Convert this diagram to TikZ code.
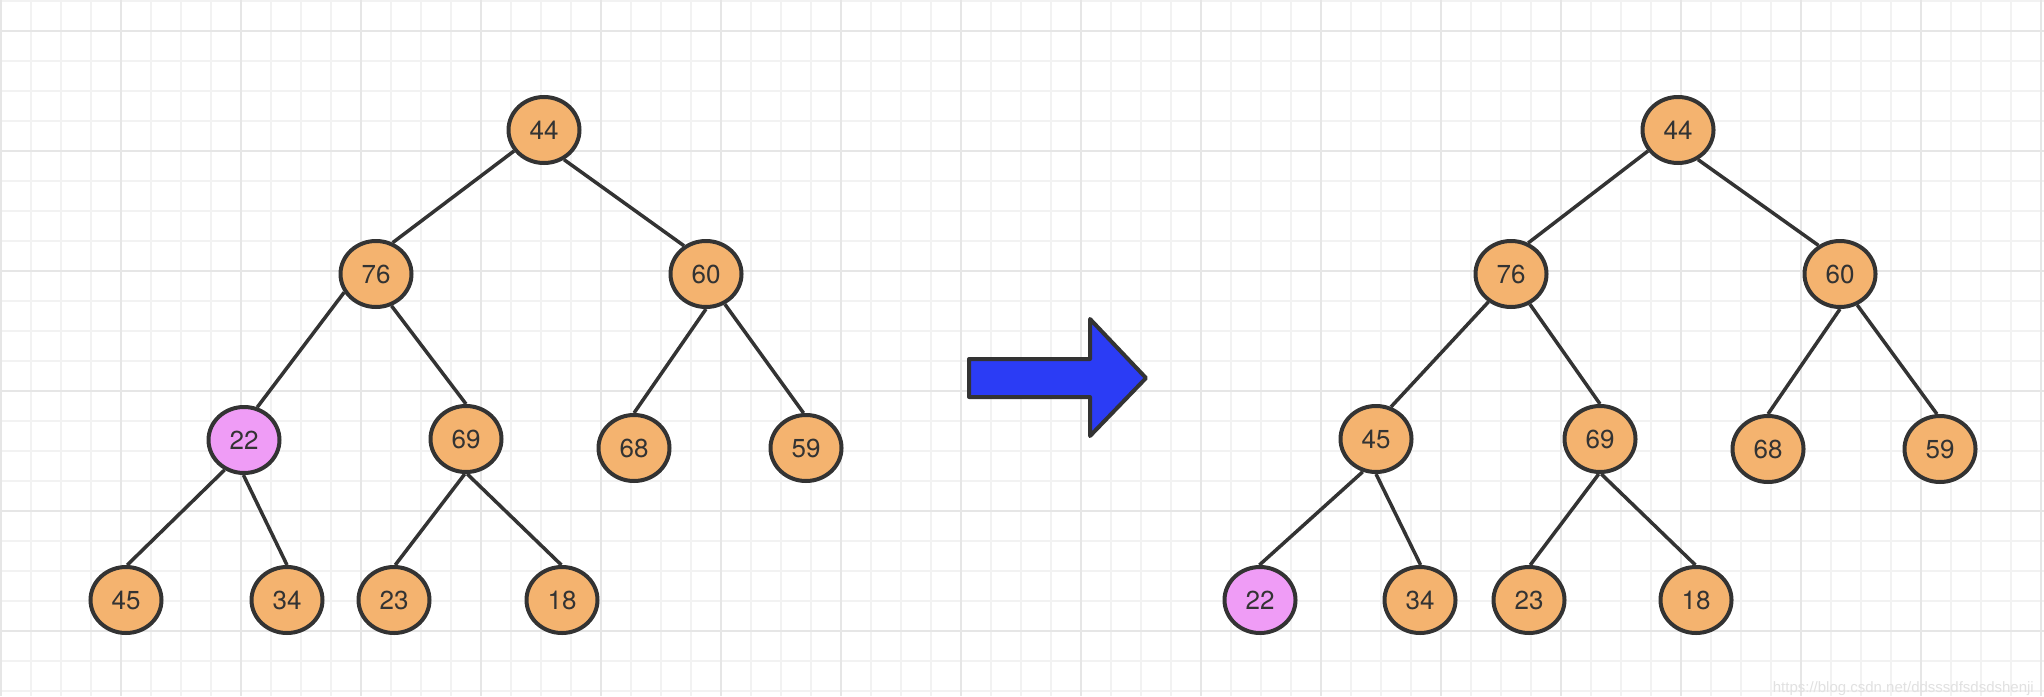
\documentclass[tikz,border=0pt]{standalone}
\usepackage{fontspec}
\setmainfont{TeX Gyre Heros}
\newfontfamily\wmfont{Liberation Sans}
\usetikzlibrary{shapes.geometric}
\definecolor{gridminor}{RGB}{242,242,242}
\definecolor{gridmajor}{RGB}{230,230,230}
\definecolor{nodeorange}{RGB}{244,179,111}
\definecolor{nodepurple}{RGB}{239,156,246}
\definecolor{inkgray}{RGB}{51,51,51}
\definecolor{arrowblue}{RGB}{43,60,245}
\definecolor{wmgray}{RGB}{225,225,225}
\pgfdeclarelayer{gridlayer}
\pgfdeclarelayer{edgelayer}
\pgfsetlayers{gridlayer,edgelayer,main}
\tikzset{
  heapnode/.style={ellipse, draw=inkgray, line width=4pt, fill=nodeorange,
    minimum width=71pt, minimum height=66pt, inner sep=0pt, text=inkgray,
    font=\fontsize{26}{31}\selectfont},
  movednode/.style={heapnode, fill=nodepurple},
  treeedge/.style={draw=inkgray, line width=3.5pt},
  minorline/.style={draw=gridminor, line width=2pt},
  majorline/.style={draw=gridmajor, line width=2.5pt},
  bigarrow/.style={draw=inkgray, fill=arrowblue, line width=4pt, line join=round}
}
\begin{document}
\begin{tikzpicture}[x=1pt,y=-1pt]
\useasboundingbox (0,0) rectangle (2044,696);
\begin{pgfonlayer}{gridlayer}
  \fill[white] (0,0) rectangle (2044,696);
  \foreach \k in {0,...,68} \draw[minorline] ({1+30*\k},0) -- ({1+30*\k},696);
  \foreach \k in {0,...,23} \draw[minorline] (0,{1+30*\k}) -- (2044,{1+30*\k});
  \foreach \k in {0,...,17} \draw[majorline] ({1+120*\k},0) -- ({1+120*\k},696);
  \foreach \k in {0,...,5} \draw[majorline] (0,{31+120*\k}) -- (2044,{31+120*\k});
\end{pgfonlayer}

% left tree
\node[heapnode] (a44) at (544,130) {44};
\node[heapnode] (a76) at (376,274) {76};
\node[heapnode] (a60) at (706,274) {60};
\node[movednode] (a22) at (244,440) {22};
\node[heapnode] (a69) at (466,439) {69};
\node[heapnode] (a68) at (634,448) {68};
\node[heapnode] (a59) at (806,448) {59};
\node[heapnode] (a45) at (126,600) {45};
\node[heapnode] (a34) at (287,600) {34};
\node[heapnode] (a23) at (394,600) {23};
\node[heapnode] (a18) at (562,600) {18};

% right tree
\node[heapnode] (b44) at (1678,130) {44};
\node[heapnode] (b76) at (1511,274) {76};
\node[heapnode] (b60) at (1840,274) {60};
\node[heapnode] (b45) at (1376,439) {45};
\node[heapnode] (b69) at (1600,439) {69};
\node[heapnode] (b68) at (1768,449) {68};
\node[heapnode] (b59) at (1940,449) {59};
\node[movednode] (b22) at (1260,600) {22};
\node[heapnode] (b34) at (1420,600) {34};
\node[heapnode] (b23) at (1529,600) {23};
\node[heapnode] (b18) at (1696,600) {18};

\begin{pgfonlayer}{edgelayer}
  \draw[treeedge] (a44.215) -- (a76.62);
  \draw[treeedge] (a44.-56) -- (a60.128);
  \draw[treeedge] (a76.210) -- (a22.68);
  \draw[treeedge] (a76.-64) -- (a69.90);
  \draw[treeedge] (a60.-90) -- (a68.90);
  \draw[treeedge] (a60.-58) -- (a59.94);
  \draw[treeedge] (a22.-123) -- (a45.88);
  \draw[treeedge] (a22.-91) -- (a34.90);
  \draw[treeedge] (a69.-92) -- (a23.88);
  \draw[treeedge] (a69.-88) -- (a18.91);

  \draw[treeedge] (b44.215) -- (b76.61);
  \draw[treeedge] (b44.-56) -- (b60.127);
  \draw[treeedge] (b76.231) -- (b45.65);
  \draw[treeedge] (b76.-58) -- (b69.90);
  \draw[treeedge] (b60.-90) -- (b68.90);
  \draw[treeedge] (b60.-61) -- (b59.95);
  \draw[treeedge] (b45.-112) -- (b22.91);
  \draw[treeedge] (b45.-90) -- (b34.89);
  \draw[treeedge] (b69.-92) -- (b23.88);
  \draw[treeedge] (b69.-88) -- (b18.91);
\end{pgfonlayer}

% transition arrow
\draw[bigarrow] (969,359) -- (1090,359) -- (1090,319) -- (1146,378) -- (1090,436) -- (1090,397) -- (969,397) -- cycle;

% watermark
\node[anchor=base east, inner sep=0pt, text=wmgray, font=\wmfont\fontsize{15}{18}\selectfont] (wm) at (2034,692) {https://blog.csdn.net/ddsssdfsdsdshenji};
\end{tikzpicture}
\end{document}
